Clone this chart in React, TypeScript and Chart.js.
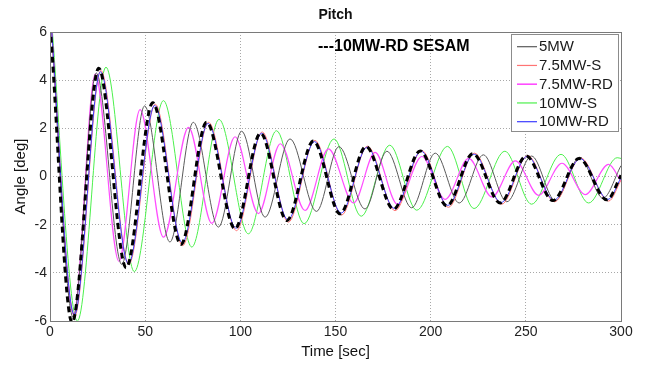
import React, { useEffect, useRef } from "react";
import { Chart, registerables } from "chart.js";

Chart.register(...registerables);

const chartTitle = "Pitch";
const xAxisTitle = "Time [sec]";
const yAxisTitle = "Angle [deg]";
const annotationLabel = "---10MW-RD SESAM";
const xTicks = [0, 50, 100, 150, 200, 250, 300];
const yTicks = [-6, -4, -2, 0, 2, 4, 6];
const seriesNames = ["5MW", "7.5MW-S", "7.5MW-RD", "10MW-S", "10MW-RD"];
const seriesColors = ["#5a5a5a", "#ff7474", "#ff4dff", "#4cf04c", "#3c3cff"];

// 10MW-RD SESAM (dashed black)
const tSesam = [0.5, 11.6, 25.6, 40.0, 54.0, 68.8, 82.3, 97.2, 110.6, 124.4, 138.4, 152.4, 166.0, 180.5, 194.5, 208.5, 222.2, 236.5, 250.2, 264.2, 278.0, 292.6, 300];
const vSesam = [5.8, -6.06, 4.5, -3.79, 3.06, -2.82, 2.25, -2.17, 1.8, -1.83, 1.47, -1.55, 1.24, -1.36, 1.06, -1.22, 0.95, -1.1, 0.85, -1.0, 0.75, -0.97, 0.05];

// 5MW
const t5MW = [0, 12.2, 24.3, 37.7, 49.7, 63.0, 75.3, 88.5, 100.7, 113.0, 126.1, 140.0, 151.8, 165.5, 177.0, 190.0, 202.4, 215.0, 227.7, 240.0, 253.0, 265.5, 278.3, 290.5, 300];
const v5MW = [7.0, -5.85, 4.3, -3.65, 2.93, -2.72, 2.25, -2.1, 1.88, -1.69, 1.56, -1.45, 1.24, -1.35, 1.05, -1.3, 0.97, -1.1, 0.9, -1.05, 0.85, -1.0, 0.8, -0.9, 0.45];

// 7.5MW-S
const t75S = [0, 12.9, 26.7, 41.4, 55.3, 69.7, 83.3, 98.0, 111.5, 125.2, 139.2, 153.2, 166.8, 181.3, 195.3, 209.3, 223.0, 237.3, 251.0, 265.0, 278.8, 293.5, 300];
const v75S = [7.0, -5.8, 4.4, -3.65, 3.0, -2.87, 2.25, -2.25, 1.85, -1.9, 1.5, -1.6, 1.26, -1.42, 1.08, -1.28, 0.97, -1.15, 0.87, -1.05, 0.77, -1.02, -0.15];

// 7.5MW-RD
const t75RD = [0, 12.4, 23.8, 36.2, 47.3, 59.6, 72.8, 85.0, 97.2, 109.5, 121.0, 134.0, 146.3, 159.5, 170.8, 182.5, 195.4, 207.6, 220.0, 232.2, 244.5, 256.7, 269.0, 281.2, 293.5, 300];
const v75RD = [7.0, -5.7, 4.25, -3.52, 2.78, -2.52, 2.04, -1.95, 1.65, -1.54, 1.36, -1.41, 1.15, -1.1, 1.0, -1.15, 0.83, -0.95, 0.75, -0.85, 0.65, -0.78, 0.55, -0.75, 0.5, -0.2];

// 10MW-S
const t10S = [0, 14.4, 29.4, 44.3, 59.6, 74.5, 88.8, 104.2, 119.0, 133.5, 149.2, 163.5, 178.5, 192.7, 208.8, 222.8, 239.0, 253.0, 268.5, 283.0, 298.0, 300];
const v10S = [7.3, -6.0, 4.54, -3.95, 3.15, -2.93, 2.37, -2.38, 1.9, -1.96, 1.56, -1.65, 1.3, -1.4, 1.25, -1.33, 1.05, -1.15, 0.92, -1.1, 0.78, 0.75];

// 10MW-RD
const t10RD = [0, 12.8, 26.5, 41.2, 55.0, 69.5, 83.0, 97.8, 111.2, 125.0, 139.0, 153.0, 166.6, 181.0, 195.0, 209.0, 222.8, 237.0, 250.8, 264.8, 278.6, 293.2, 300];
const v10RD = [7.0, -5.75, 4.35, -3.62, 2.95, -2.75, 2.2, -2.15, 1.8, -1.8, 1.45, -1.52, 1.22, -1.33, 1.05, -1.2, 0.93, -1.08, 0.84, -0.98, 0.74, -0.95, -0.05];

const FONT = '"Liberation Sans", Arial, sans-serif';

function zip(t: number[], v: number[]) {
  return t.map((x, i) => ({ x, y: v[i] }));
}

const overlayPlugin = {
  id: "overlay",
  afterDatasetsDraw(chart: any) {
    const { ctx, chartArea } = chart;
    const { left, top, right, bottom } = chartArea;
    ctx.save();
    // axes frame
    ctx.strokeStyle = "#7a7a7a";
    ctx.lineWidth = 1;
    ctx.strokeRect(Math.round(left) + 0.5, Math.round(top) + 0.5, Math.round(right - left), Math.round(bottom - top));

    // title
    ctx.fillStyle = "#111";
    ctx.font = `bold 14px ${FONT}`;
    ctx.textAlign = "center";
    ctx.textBaseline = "middle";
    ctx.fillText(chartTitle, (left + right) / 2, 15);

    // annotation
    ctx.font = `bold 16px ${FONT}`;
    ctx.textAlign = "left";
    ctx.fillStyle = "#000";
    ctx.fillText(annotationLabel, 318, 47);

    // legend box
    const bx = 511.5, by = 34.5, bw = 107, bh = 97;
    ctx.fillStyle = "#fff";
    ctx.fillRect(bx, by, bw, bh);
    ctx.strokeStyle = "#8c8c8c";
    ctx.lineWidth = 1;
    ctx.strokeRect(bx, by, bw, bh);
    ctx.font = `15px ${FONT}`;
    ctx.textBaseline = "middle";
    seriesNames.forEach((name, i) => {
      const y = 46.7 + i * 18.75;
      ctx.strokeStyle = seriesColors[i];
      ctx.lineWidth = i === 2 ? 1.6 : 1.2;
      ctx.beginPath();
      ctx.moveTo(517, y);
      ctx.lineTo(537, y);
      ctx.stroke();
      ctx.fillStyle = "#1a1a1a";
      ctx.fillText(name, 539, y + 0.5);
    });
    ctx.restore();
  },
};

export default function App() {
  const ref = useRef<HTMLCanvasElement>(null);
  useEffect(() => {
    document.body.style.margin = "0";
    const solid = (i: number, t: number[], v: number[]) => ({
      label: seriesNames[i],
      data: zip(t, v),
      borderColor: seriesColors[i],
      borderWidth: i === 2 ? 1.2 : 1,
      cubicInterpolationMode: "monotone",
      pointRadius: 0,
      fill: false,
    });
    const chart = new Chart(ref.current as HTMLCanvasElement, {
      type: "line",
      data: {
        datasets: [
          {
            label: "10MW-RD SESAM",
            data: zip(tSesam, vSesam),
            borderColor: "#000",
            borderWidth: 3,
            borderDash: [6, 4],
            cubicInterpolationMode: "monotone",
            pointRadius: 0,
            fill: false,
          },
          solid(4, t10RD, v10RD),
          solid(1, t75S, v75S),
          solid(0, t5MW, v5MW),
          solid(2, t75RD, v75RD),
          solid(3, t10S, v10S),
        ] as any,
      },
      options: {
        responsive: false,
        animation: false,
        devicePixelRatio: 1,
        layout: { padding: { top: 32, right: 25, left: 0, bottom: 0 } },
        plugins: {
          legend: { display: false },
          tooltip: { enabled: false },
          title: { display: false },
        },
        scales: {
          x: {
            type: "linear",
            min: 0,
            max: 300,
            afterBuildTicks: (s: any) => {
              s.ticks = xTicks.map((value) => ({ value }));
            },
            afterFit: (s: any) => {
              s.height = 46;
            },
            grid: { color: "#a8a8a8", lineWidth: 1, drawTicks: false },
            border: { display: false, dash: [1, 2] },
            ticks: { padding: 3, color: "#222", font: { family: FONT, size: 14 } },
            title: {
              display: true,
              text: xAxisTitle,
              color: "#111",
              font: { family: FONT, size: 15 },
              padding: { top: 0, bottom: 6 },
            },
          },
          y: {
            type: "linear",
            min: -6,
            max: 6,
            afterBuildTicks: (s: any) => {
              s.ticks = yTicks.map((value) => ({ value }));
            },
            afterFit: (s: any) => {
              s.width = 50;
            },
            grid: { color: "#a8a8a8", lineWidth: 1, drawTicks: false },
            border: { display: false, dash: [1, 2] },
            ticks: { padding: 3, color: "#222", font: { family: FONT, size: 14 } },
            title: {
              display: true,
              text: yAxisTitle,
              color: "#111",
              font: { family: FONT, size: 15 },
              padding: { top: 12, bottom: 0 },
            },
          },
        },
      } as any,
      plugins: [overlayPlugin],
    });
    return () => chart.destroy();
  }, []);
  return <canvas ref={ref} width={646} height={367} style={{ display: "block" }} />;
}
